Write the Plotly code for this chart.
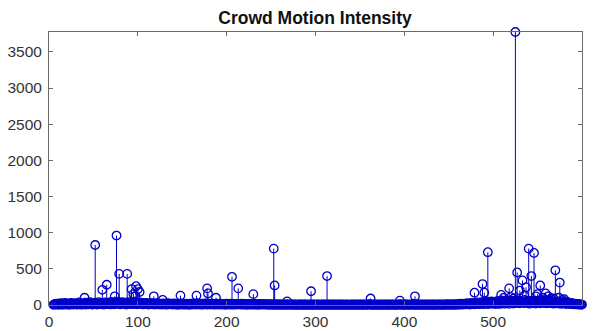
import plotly.graph_objects as go

# Baseline intensity for every frame from 5 to 600
base_start = 5
base_values = [
    3, 8, 15, 5, 20, 10, 2, 12, 25, 6, 18, 4, 9, 30, 14, 7, 22, 11, 3, 16, 28, 8, 13, 5, 19, 24, 10, 6, 17, 35,
    12, 4, 21, 9, 27, 15, 6, 31, 18, 8, 14, 38, 22, 10, 5, 26, 16, 33, 11, 7, 20, 40, 13, 24, 9, 29, 17, 6, 36, 19,
    25, 11, 32, 14, 8, 42, 20, 27, 10, 35, 16, 22, 45, 13, 30, 9, 24, 38, 18, 12, 33, 21, 7, 28, 40, 15, 26, 11, 37, 20,
    30, 14, 44, 22, 10, 36, 18, 27, 12, 32, 24, 8, 20, 15, 29, 11, 25, 6, 18, 13, 22, 9, 27, 16, 5, 19, 12, 24, 8, 15,
    10, 20, 6, 14, 22, 9, 17, 4, 12, 25, 8, 15, 11, 19, 5, 13, 21, 7, 16, 10, 3, 18, 12, 6, 23, 9, 14, 4, 11, 20,
    7, 15, 10, 3, 18, 12, 6, 21, 9, 14, 5, 16, 24, 8, 12, 19, 4, 11, 17, 7, 13, 22, 9, 5, 15, 10, 18, 6, 12, 20,
    8, 14, 4, 11, 17, 9, 6, 13, 20, 5, 10, 16, 7, 12, 3, 18, 9, 14, 6, 11, 19, 4, 10, 15, 7, 12, 5, 16, 9, 13,
    6, 11, 17, 4, 9, 14, 7, 12, 3, 10, 16, 5, 8, 13, 6, 11, 4, 15, 9, 7, 12, 3, 10, 14, 6, 8, 13, 5, 11, 9,
    4, 8, 12, 3, 7, 10, 5, 9, 2, 6, 11, 4, 8, 3, 7, 10, 5, 2, 9, 6, 4, 8, 3, 7, 5, 10, 2, 6, 9, 4,
    7, 3, 5, 9, 2, 6, 4, 8, 3, 10, 5, 2, 7, 4, 9, 3, 6, 2, 8, 5, 3, 7, 4, 2, 9, 5, 3, 6, 8, 4,
    2, 6, 4, 9, 3, 7, 5, 2, 8, 4, 6, 3, 10, 5, 2, 7, 4, 3, 8, 6, 2, 5, 9, 3, 4, 7, 2, 6, 5, 3,
    8, 4, 2, 6, 3, 9, 5, 2, 7, 4, 3, 8, 5, 2, 6, 10, 4, 3, 7, 5, 2, 9, 4, 6, 3, 8, 12, 5, 3, 7,
    4, 2, 9, 5, 3, 7, 2, 6, 4, 8, 3, 5, 2, 10, 4, 6, 3, 7, 2, 5, 8, 3, 4, 9, 2, 6, 5, 3, 7, 4,
    12, 5, 3, 8, 4, 2, 7, 5, 10, 3, 6, 4, 2, 9, 5, 14, 3, 7, 4, 6, 2, 8, 5, 3, 9, 4, 6, 2, 7, 5,
    3, 8, 4, 6, 2, 9, 5, 3, 7, 4, 2, 6, 8, 3, 5, 10, 4, 2, 7, 5, 3, 9, 4, 6, 12, 3, 5, 8, 4, 7,
    5, 9, 3, 12, 6, 4, 15, 8, 5, 18, 10, 6, 14, 20, 8, 12, 25, 10, 16, 7, 22, 30, 12, 18, 9, 26, 15, 35, 20, 11,
    28, 16, 40, 22, 12, 34, 18, 45, 25, 14, 38, 20, 30, 50, 16, 42, 24, 35, 12, 28, 55, 20, 38, 15, 46, 26, 60, 32, 18, 40,
    24, 52, 30, 16, 44, 62, 28, 38, 20, 55, 34, 48, 26, 65, 40, 22, 58, 36, 45, 30, 70, 25, 50, 42, 60, 32, 18, 54, 38, 46,
    28, 62, 35, 20, 50, 40, 30, 58, 24, 45, 36, 66, 28, 52, 40, 22, 48, 34, 60, 26, 42, 55, 30, 18, 44, 36, 24, 50, 32, 20,
    40, 28, 16, 34, 22, 45, 30, 14, 26, 38, 20, 12, 30, 18, 24, 10, 20, 14, 8, 16, 10, 6, 12, 8, 4, 6,
]
base_frames = [base_start + i for i in range(len(base_values))]

# Notable peaks
peak_frames = [40, 52, 60, 65, 74, 76, 79, 88, 93, 95, 97, 98, 100, 102, 118, 128,
               148, 166, 178, 179, 188, 206, 213, 230, 253, 254, 268, 295, 313,
               362, 395, 412, 479, 488, 490, 494, 509, 512, 518, 520, 523, 525, 527, 530,
               533, 535, 537, 540, 543, 546, 548, 550, 553, 556, 559, 562, 565, 568, 570,
               574, 575, 578, 580]
peak_values = [100, 830, 210, 280, 120, 960, 430, 430, 220, 150, 120, 260, 220, 180, 120, 70,
               130, 130, 230, 160, 100, 390, 230, 150, 780, 270, 50, 190, 400,
               90, 60, 120, 170, 290, 170, 730, 140, 100, 230, 110, 90, 3775, 450, 200,
               340, 130, 245, 780, 400, 720, 120, 150, 270, 100, 160, 120, 90, 90, 480,
               100, 310, 70, 80]

frames = base_frames + peak_frames
values = base_values + peak_values
pts = sorted(zip(frames, values))

stem_x, stem_y = [], []
for f, v in pts:
    stem_x += [f, f, None]
    stem_y += [0, v, None]

blue = "rgb(0,0,200)"
fig = go.Figure()
fig.add_trace(go.Scatter(x=stem_x, y=stem_y, mode="lines",
                         line=dict(color=blue, width=1), cliponaxis=False,
                         hoverinfo="skip"))
fig.add_trace(go.Scatter(x=[p[0] for p in pts], y=[p[1] for p in pts], mode="markers",
                         marker=dict(symbol="circle-open", size=8.5, color=blue,
                                     line=dict(width=1.3, color=blue)),
                         cliponaxis=False))

axis_common = dict(showline=True, linecolor="#6a6a6a", linewidth=1, mirror="ticks",
                   ticks="inside", ticklen=4, tickcolor="#6a6a6a", showgrid=False,
                   zeroline=False, automargin=False,
                   tickfont=dict(family="Liberation Sans, Arial", size=15.5, color="#333"))
# The page body adds an 8 px offset, so the figure is sized to fit the window.
fig.update_layout(
    width=587, height=323,
    margin=dict(l=41, r=13, t=24, b=26),
    paper_bgcolor="white", plot_bgcolor="white",
    showlegend=False,
    title=dict(text="<b>Crowd Motion Intensity</b>", x=0.523, xanchor="center",
               yref="container", y=0.969, yanchor="middle",
               font=dict(family="Liberation Sans, Arial", size=17.5, color="#111")),
    xaxis=dict(range=[0, 600], tickvals=[0, 100, 200, 300, 400, 500, 600],
               ticklabelstandoff=2, **axis_common),
    yaxis=dict(range=[0, 3775], tickvals=[0, 500, 1000, 1500, 2000, 2500, 3000, 3500],
               ticklabelstandoff=3, **axis_common),
)
fig.write_html("out.html")
